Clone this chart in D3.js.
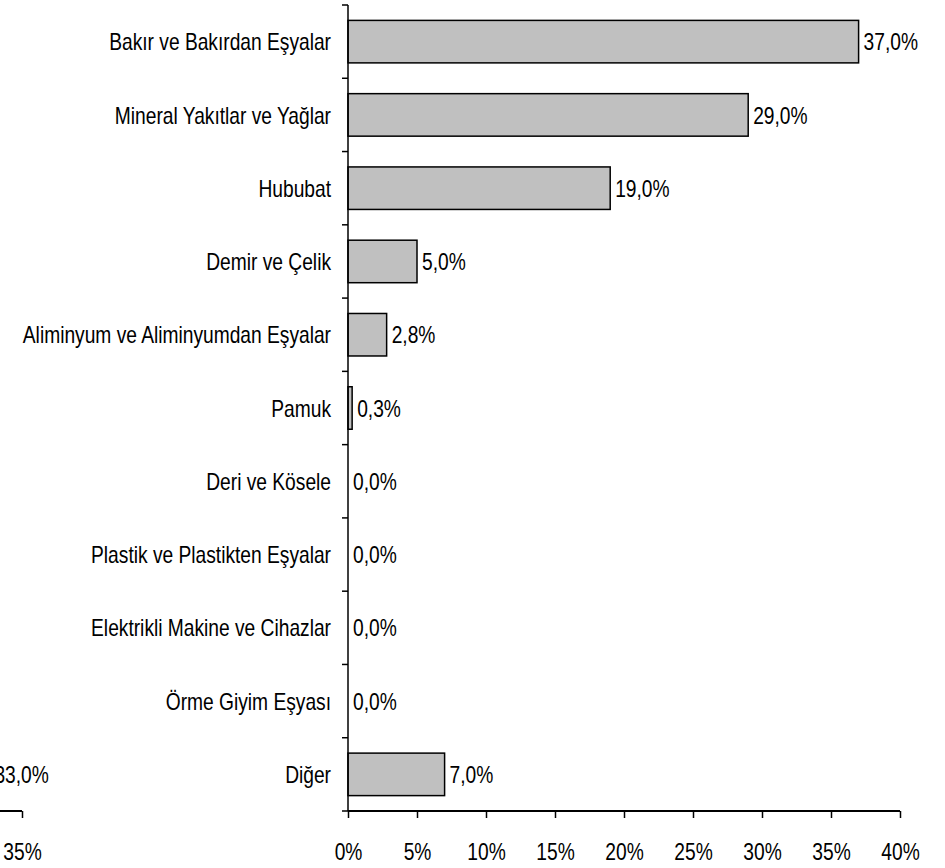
<!DOCTYPE html>
<html>
<head>
<meta charset="utf-8">
<script src="https://cdn.jsdelivr.net/npm/d3@7"></script>
<style>
body { margin: 0; background: #fff; }
svg text { font-family: "Liberation Sans", Arial, sans-serif; fill: #000; }
</style>
</head>
<body>
<div id="chart"></div>
<script>
// categories top to bottom
var categories = ["Bakır ve Bakırdan Eşyalar", "Mineral Yakıtlar ve Yağlar", "Hububat",
    "Demir ve Çelik", "Aliminyum ve Aliminyumdan Eşyalar", "Pamuk", "Deri ve Kösele",
    "Plastik ve Plastikten Eşyalar", "Elektrikli Makine ve Cihazlar", "Örme Giyim Eşyası", "Diğer"]
var shares = [37.0, 29.0, 19.0, 5.0, 2.8, 0.3, 0.0, 0.0, 0.0, 0.0, 7.0]
var ticks = [0, 5, 10, 15, 20, 25, 30, 35, 40]

// neighbouring chart, mostly cut off on the left
var leftCategories = ["Diğer"]
var leftShares = [33.0]
var leftTicks = [35]

var width = 945, height = 868
var squeeze = 0.8   // fake a narrow font
var svg = d3.select("#chart").append("svg").attr("width", width).attr("height", height)

var fmt = function(v) { return v.toFixed(1).replace(".", ",") + "%" }

// place a text at (px,py) and squeeze it horizontally
function narrowText(sel, px, py) {
    sel.attr("x", 0).attr("y", 0)
        .attr("transform", function(d, i) { return "translate(" + px(d, i) + "," + py(d, i) + ") scale(" + squeeze + ",1)" })
}

var x = d3.scaleLinear().domain([0, 40]).range([348, 900])
var y = d3.scaleBand().domain(categories).range([5, 811]).paddingInner(0.42).paddingOuter(0.21)

// bars
svg.append("g").selectAll("rect").data(categories).join("rect")
    .attr("x", x(0))
    .attr("y", function(d) { return y(d) })
    .attr("width", function(d, i) { return x(shares[i]) - x(0) })
    .attr("height", y.bandwidth())
    .attr("fill", function(d, i) { return shares[i] > 0 ? "#c0c0c0" : "none" })
    .attr("stroke", function(d, i) { return shares[i] > 0 ? "#000" : "none" })
    .attr("stroke-width", 1.5)

// value labels
svg.append("g").selectAll("text").data(categories).join("text")
    .attr("dy", "0.36em")
    .attr("font-size", 24)
    .text(function(d, i) { return fmt(shares[i]) })
    .call(narrowText, function(d, i) { return x(shares[i]) + 5 }, function(d) { return y(d) + y.bandwidth() / 2 })

// category labels
svg.append("g").selectAll("text").data(categories).join("text")
    .attr("dy", "0.36em")
    .attr("text-anchor", "end")
    .attr("font-size", 24)
    .text(function(d) { return d })
    .call(narrowText, function() { return 331 }, function(d) { return y(d) + y.bandwidth() / 2 })

// y axis with ticks on band boundaries
var yb = d3.range(categories.length + 1).map(function(i) { return 5 + i * (806 / categories.length) })
svg.append("line").attr("x1", x(0)).attr("x2", x(0)).attr("y1", 5).attr("y2", 811)
    .attr("stroke", "#000").attr("stroke-width", 1.5)
svg.append("g").selectAll("line").data(yb).join("line")
    .attr("x1", x(0) - 6).attr("x2", x(0)).attr("y1", function(d) { return d }).attr("y2", function(d) { return d })
    .attr("stroke", "#000").attr("stroke-width", 1.5)

// x axis
function styleAxis(g, sc, lo, hi) {
    g.select(".domain").attr("stroke-width", 2).attr("d", "M" + sc(lo) + ",0H" + sc(hi))
    g.selectAll(".tick line").attr("stroke-width", 1.5)
    g.selectAll(".tick text").attr("font-size", 24).attr("font-family", null)
        .attr("transform", "scale(" + squeeze + ",1)")
}
var xAxis = svg.append("g").attr("transform", "translate(0,811)")
    .call(d3.axisBottom(x).tickValues(ticks).tickSize(7).tickPadding(25).tickFormat(function(d) { return d + "%" }))
styleAxis(xAxis, x, 0, 40)

// left chart fragment
var xl = d3.scaleLinear().domain([0, 35]).range([22 - 35 * 13.8, 22])
svg.append("g").selectAll("text").data(leftCategories).join("text")
    .attr("dy", "0.36em")
    .attr("font-size", 24)
    .text(function(d, i) { return fmt(leftShares[i]) })
    .call(narrowText, function(d, i) { return xl(leftShares[i]) }, function(d) { return y(d) + y.bandwidth() / 2 })
var lAxis = svg.append("g").attr("transform", "translate(0,811)")
    .call(d3.axisBottom(xl).tickValues(leftTicks).tickSize(7).tickPadding(25).tickFormat(function(d) { return d + "%" }))
styleAxis(lAxis, xl, 0, 35)
</script>
</body>
</html>
